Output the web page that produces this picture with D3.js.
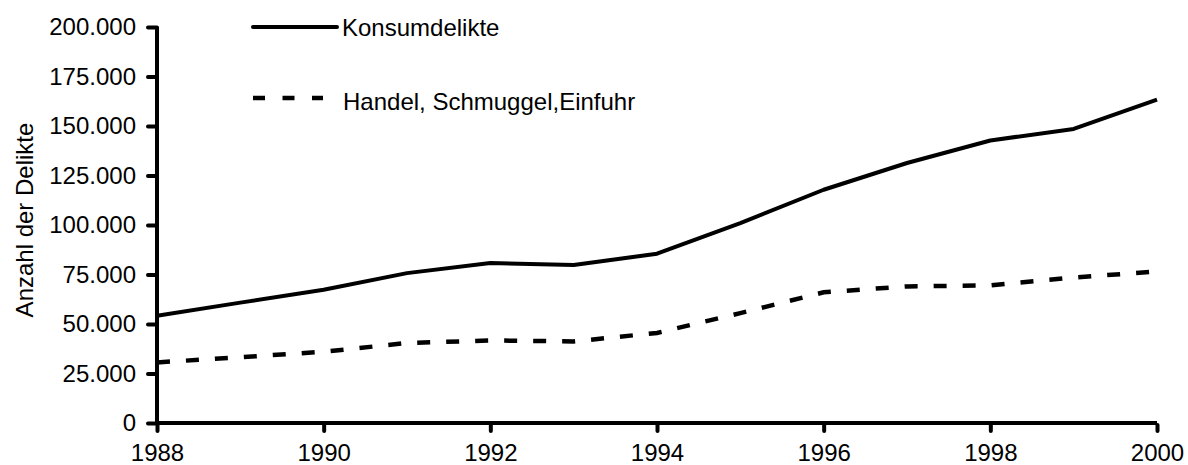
<!DOCTYPE html>
<html>
<head>
<meta charset="utf-8">
<script src="https://cdnjs.cloudflare.com/ajax/libs/d3/7.8.5/d3.min.js"></script>
<style>
  body { margin: 0; background: #fff; }
  svg { font-family: "Liberation Sans", Arial, sans-serif; }
</style>
</head>
<body>
<div id="chart"></div>
<script>
var years = [1988, 1989, 1990, 1991, 1992, 1993, 1994, 1995, 1996, 1997, 1998, 1999, 2000];
var konsum = [54200, 60800, 67300, 75700, 80800, 79800, 85500, 101000, 117800, 131300, 142700, 148500, 163300];
var handel = [30600, 33200, 36000, 40400, 41700, 41200, 45500, 55500, 66000, 69000, 69500, 73500, 76500];
var yTicks = [0, 25000, 50000, 75000, 100000, 125000, 150000, 175000, 200000];
var xTicks = [1988, 1990, 1992, 1994, 1996, 1998, 2000];
var seriesNames = ["Konsumdelikte", "Handel, Schmuggel,Einfuhr"];

var margin = {top: 27, right: 31, bottom: 42, left: 157},
    width = 1188 - margin.left - margin.right,
    height = 465 - margin.top - margin.bottom;

var de = d3.formatLocale({decimal: ",", thousands: ".", grouping: [3], currency: ["", " €"]});
var fmt = de.format(",d");

var svg = d3.select("#chart")
  .append("svg")
    .attr("width", 1188)
    .attr("height", 465)
  .append("g")
    .attr("transform", "translate(" + margin.left + "," + margin.top + ")");

var x = d3.scaleLinear().domain([1988, 2000]).range([0, width]);
var y = d3.scaleLinear().domain([0, 200000]).range([height, 0]);

var yAxis = svg.append("g")
    .call(d3.axisLeft(y).tickValues(yTicks).tickFormat(fmt).tickSize(9).tickPadding(12));
var xAxis = svg.append("g")
    .attr("transform", "translate(0," + height + ")")
    .call(d3.axisBottom(x).tickValues(xTicks).tickFormat(d3.format("d")).tickSize(8).tickPadding(13));

[yAxis, xAxis].forEach(function(a) {
  a.select(".domain").attr("stroke", "#000").attr("stroke-width", 4);
  a.selectAll(".tick line").attr("stroke", "#000").attr("stroke-width", 4).attr("stroke-linecap", "round");
  a.selectAll(".tick text").attr("font-size", 24).attr("fill", "#000")
    .attr("font-family", "Liberation Sans, Arial, sans-serif");
});
// plain axis lines (no outer ticks)
yAxis.select(".domain").attr("d", "M0," + (height + 2) + "V0");
xAxis.select(".domain").attr("d", "M-2,0H" + width);
xAxis.selectAll(".tick line").attr("y1", 2);

svg.append("text")
    .attr("transform", "translate(-124," + (height / 2 - 5) + ") rotate(-90)")
    .attr("text-anchor", "middle")
    .attr("font-size", 24)
    .attr("fill", "#000")
    .text("Anzahl der Delikte");

var line = d3.line()
    .x(function(d, i) { return x(years[i]); })
    .y(function(d) { return y(d); });

svg.append("path")
    .datum(konsum)
    .attr("fill", "none")
    .attr("stroke", "#000")
    .attr("stroke-width", 4)
    .attr("stroke-linejoin", "round")
    .attr("d", line);

svg.append("path")
    .datum(handel)
    .attr("fill", "none")
    .attr("stroke", "#000")
    .attr("stroke-width", 4.5)
    .attr("stroke-dasharray", "13,16")
    .attr("d", line);

// legend
var legend = svg.append("g").attr("transform", "translate(" + (253 - margin.left) + ",0)");
legend.append("line")
    .attr("x1", 0).attr("x2", 84).attr("y1", 0).attr("y2", 0)
    .attr("stroke", "#000").attr("stroke-width", 4).attr("stroke-linecap", "round");
legend.append("text")
    .attr("x", 89).attr("y", 1).attr("dy", "0.35em")
    .attr("font-size", 24).attr("fill", "#000")
    .text(seriesNames[0]);
legend.append("line")
    .attr("x1", 0).attr("x2", 70).attr("y1", 71).attr("y2", 71)
    .attr("stroke", "#000").attr("stroke-width", 4.5).attr("stroke-dasharray", "12,17.5");
legend.append("text")
    .attr("x", 90).attr("y", 74.5).attr("dy", "0.35em")
    .attr("font-size", 24).attr("fill", "#000")
    .text(seriesNames[1]);
</script>
</body>
</html>
